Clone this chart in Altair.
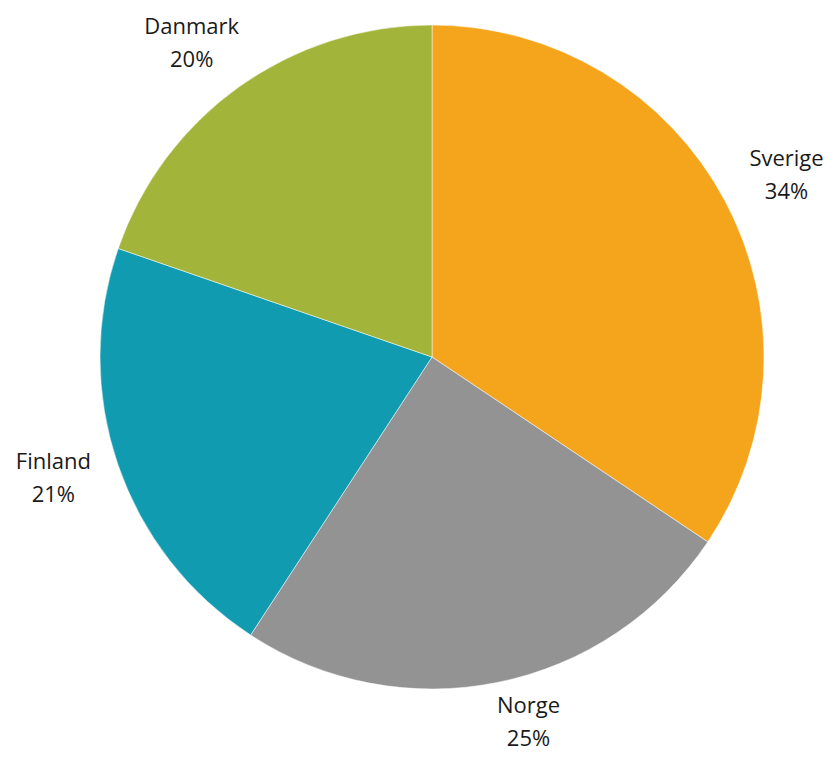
import altair as alt
import pandas as pd

countries = ["Sverige", "Norge", "Finland", "Danmark"]
values = [34.4, 24.8, 21.1, 19.7]
shown_pct = ["34%", "25%", "21%", "20%"]
colors = ["#F4A51C", "#939393", "#119BB0", "#A3B43A"]
order = [1, 2, 3, 4]

df = pd.DataFrame({
    "land": countries,
    "andel": values,
    "ord": order,
    "etikett": [f"{c}\n{p}" for c, p in zip(countries, shown_pct)],
})

CX, CY = 424, 349

pie = alt.Chart(df).mark_arc(outerRadius=332, stroke="white", strokeWidth=0.5).encode(
    theta=alt.Theta("andel:Q", stack=True),
    order=alt.Order("ord:Q", sort="ascending"),
    color=alt.Color("land:N", scale=alt.Scale(domain=countries, range=colors), legend=None),
    x=alt.value(CX),
    y=alt.value(CY),
)

labels = alt.Chart(df).transform_joinaggregate(
    total="sum(andel)"
).transform_window(
    cum="sum(andel)", sort=[alt.SortField("ord", order="ascending")], frame=[None, 0]
).transform_calculate(
    mid="2*PI*(datum.cum - datum.andel/2)/datum.total"
).transform_calculate(
    lx=f"{CX} + 378*sin(datum.mid) + (sin(datum.mid) >= 0 ? 21 : -21)",
    ly=f"{CY} - (cos(datum.mid) > 0 ? 386 : 373)*cos(datum.mid)",
).mark_text(
    font="Open Sans", fontSize=22, color="#1a1a1a",
    lineBreak="\n", lineHeight=33, align="center", baseline="middle", dy=-16
).encode(
    x=alt.X("lx:Q", scale=None, axis=None),
    y=alt.Y("ly:Q", scale=None, axis=None),
    text="etikett:N",
)

chart = (pie + labels).properties(
    width=819, height=744,
    autosize=alt.AutoSizeParams(type="none"),
    padding=0,
).configure_view(stroke=None)

chart.save("out.html", embed_options={"renderer": "svg", "actions": False})
